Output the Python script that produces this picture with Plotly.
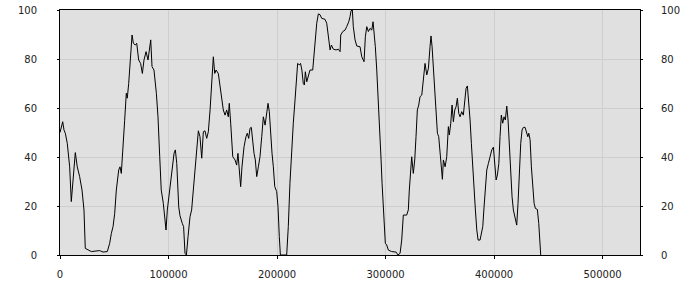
import plotly.graph_objects as go

# distance (thousands) and value
x_k = [0, 2.5, 3.7, 4.9, 6.7, 8.9, 10.4, 11.7, 12.9, 14.1, 15.9, 18.1, 20.3, 22.1, 23.3, 25.8, 28.9,
       36.6, 39.6, 43.6, 45.8, 47.3, 48.9, 50.4, 51.9, 54.1, 55.3, 56.5, 58.1, 59.6, 61.1, 62.0, 63.3,
       65.1, 66.4, 67.6, 69.4, 70.7, 72.5, 74.3, 75.9, 77.4, 79.3, 81.1, 82.3, 83.6, 84.8, 86.6, 88.8,
       90.3, 91.9, 93.3, 95.2, 96.5, 97.7, 98.9, 101.1, 103.2, 105.1, 106.3, 107.6, 109.4, 110.6, 112.7,
       113.9, 115.2, 116.5, 118.0, 119.8, 121.3, 122.9, 124.4, 126.0, 127.5, 129.0, 130.6, 132.1, 133.6,
       135.2, 136.7, 138.3, 139.8, 141.3, 142.6, 143.8, 145.9, 147.5, 149.0, 150.5, 152.1, 153.6, 155.1,
       156.0, 157.3, 158.2, 159.2, 161.3, 162.8, 164.0, 165.2, 166.5, 167.7, 169.6, 171.4, 172.6, 173.9,
       175.1, 176.3, 177.6, 178.8, 180.0, 181.3, 182.8, 184.3, 185.9, 187.4, 189.0, 190.6, 191.7, 192.9,
       194.2, 195.4, 196.6, 197.9, 199.7, 200.9, 202.1, 203.1, 208.9, 210.4, 211.9, 213.5, 215.0, 216.6,
       218.1, 219.0, 220.5, 221.7, 222.9, 224.2, 225.2, 226.1, 227.4, 228.8, 230.4, 232.9, 234.1, 235.0,
       236.6, 238.1, 239.6, 241.2, 244.2, 245.8, 247.3, 248.9, 250.1, 251.9, 254.4, 256.5, 258.1, 258.7,
       260.6, 262.7, 264.2, 266.1, 267.3, 268.2, 269.4, 270.3, 271.9, 273.5, 276.5, 278.1, 280.2, 281.4,
       282.7, 284.2, 285.7, 287.3, 288.5, 289.4, 290.6, 291.9, 293.1, 294.0, 294.9, 295.9, 296.8, 298.0,
       298.9, 299.8, 301.1, 302.6, 305.7, 309.7, 311.5, 313.4, 314.9, 316.4, 319.5, 321.0, 321.9, 323.2,
       324.1, 325.6, 326.9, 328.1, 329.3, 330.6, 331.8, 333.4, 334.9, 336.4, 338.0, 339.5, 341.0, 341.9,
       342.9, 344.1, 345.6, 346.6, 347.8, 349.0, 350.2, 351.4, 352.4, 353.3, 354.9, 356.4, 357.9, 358.8,
       360.1, 361.3, 362.5, 363.8, 365.0, 366.2, 367.5, 368.7, 370.2, 371.7, 373.0, 374.2, 375.4, 376.7,
       377.9, 379.1, 380.4, 381.6, 382.8, 384.1, 385.3, 387.1, 388.4, 389.6, 390.8, 392.0, 393.3, 394.8,
       396.3, 397.9, 399.4, 400.6, 401.9, 403.1, 404.4, 405.5, 406.7, 408.0, 409.2, 410.4, 411.7, 412.9,
       414.1, 415.4, 416.6, 417.8, 419.4, 420.9, 422.1, 423.3, 424.6, 425.8, 427.0, 428.6, 430.1, 431.1,
       432.0, 433.2, 434.4, 435.7, 436.9, 438.1, 439.9, 441.2, 442.4, 443.0]
values = [50, 54.4, 51, 49.7, 45.6, 36, 21.8, 29, 38.8, 41.8, 36, 32, 26.5, 18.4, 2.7, 2, 1.4,
          1.8, 1.2, 1.4, 4.8, 8.8, 11.6, 17, 26.5, 34.7, 36, 33.3, 42.9, 55, 66, 64, 70,
          79.6, 89.8, 86.4, 85.7, 86.4, 79.6, 78.2, 74.1, 79.6, 83, 79.6, 83.7, 87.8, 76.9, 75.5, 66,
          56.4, 40.1, 26.5, 21.1, 14.3, 10.2, 18.4, 26.5, 32, 41.5, 42.9, 37.4, 19.7, 16, 12.9,
          11.6, 0.7, 0, 7.5, 15.6, 18.4, 26.5, 33.3, 42.9, 50.7, 48.3, 39.5, 50.3, 50.7,
          47.6, 50.3, 59.2, 72.8, 80.9, 74.1, 75.5, 74.1, 68.7, 63.3, 59.2, 57.1, 59.2, 56.4,
          61.9, 53.8, 48.3, 40.1, 38.8, 36.7, 41.5, 33.3, 27.9, 36, 44.2, 48.3, 49.7, 47.6,
          51.7, 52.1, 45.6, 41.5, 38.8, 32, 36, 40.1, 48.3, 56.4, 53, 57.8, 61.9, 58.5,
          48.3, 41.5, 36, 27.9, 25.9, 19.7, 7.5, 0, 0, 11.6, 29.3, 42.9, 53.8, 63.3,
          72.8, 78.2, 77.6, 78.2, 75.5, 70, 69.4, 74.8, 70.7, 72.8, 75.5, 75.5, 80.9, 87.8,
          94.6, 98.4, 98.1, 96.6, 96.2, 94.6, 89.1, 83.7, 85.7, 84, 83.7, 84, 83, 89.8,
          91.2, 91.8, 93.2, 95.2, 97.3, 99.7, 100, 93.2, 87.8, 85.3, 85, 80.9, 78.9, 89.1,
          93.2, 91.2, 92.5, 91.8, 95.2, 91.8, 85, 75.5, 66, 57.8, 48.3, 38.8, 29.3, 18.4,
          10.2, 4.8, 4.1, 2, 1.4, 1.2, 0, 0.7, 6.1, 16.3, 16.3, 18.4, 26.5, 36,
          40.1, 33.3, 38.8, 48.3, 59.2, 61.2, 64.6, 65.3, 72.8, 78.2, 73.5, 76.2, 85, 89.4,
          85, 75.5, 64.6, 56.4, 49.7, 48.3, 41.5, 36, 30.9, 38.8, 36, 40.1, 52.4, 49,
          53.8, 61.2, 54.4, 59.2, 60.5, 64, 57.8, 56.4, 58.5, 57.1, 64.6, 68, 69, 63.3,
          55.1, 45.6, 34.7, 26.5, 18.4, 10.2, 6.1, 6.1, 9.5, 11.6, 19.7, 29.3, 34.7, 37.4,
          40.1, 42.9, 44, 37.4, 30.6, 32.7, 37.4, 48.3, 57.1, 53.8, 56.4, 55.1, 60.8, 55.1,
          42.9, 30.6, 23.8, 18.4, 15, 12.2, 21.1, 34.7, 45.6, 51, 52.1, 52.1, 49.4, 48.3,
          49.7, 47.1, 36, 26.5, 21.1, 19, 18.6, 12.9, 4.8, 0]
x_vals = [v * 1000 for v in x_k]

x_ticks = [0, 100000, 200000, 300000, 400000, 500000]
y_ticks = [0, 20, 40, 60, 80, 100]

font = dict(family="DejaVu Sans", size=10, color="#222222")

fig = go.Figure()
fig.add_trace(go.Scatter(x=x_vals, y=values, mode="lines",
                         line=dict(color="#000000", width=1), showlegend=False))
fig.add_trace(go.Scatter(x=x_vals, y=values, mode="lines", yaxis="y2",
                         line=dict(color="rgba(0,0,0,0)", width=1), showlegend=False,
                         hoverinfo="skip"))

fig.update_layout(
    width=700, height=300,
    margin=dict(l=60, r=60, t=10, b=45, autoexpand=False),
    paper_bgcolor="#ffffff",
    plot_bgcolor="#e0e0e0",
    font=font,
    xaxis=dict(range=[0, 534500], tickvals=x_ticks, ticktext=[str(t) for t in x_ticks],
               showgrid=True, gridcolor="#cecece", gridwidth=1,
               showline=True, linecolor="#000000", linewidth=1, mirror=True,
               ticks="outside", ticklen=3, tickcolor="#000000", automargin=False,
               ticklabelstandoff=7, zeroline=False),
    yaxis=dict(range=[0, 100], tickvals=y_ticks, ticktext=[str(t) for t in y_ticks],
               showgrid=True, gridcolor="#cecece", gridwidth=1,
               showline=True, linecolor="#000000", linewidth=1, mirror=True,
               ticks="outside", ticklen=2, tickcolor="#000000", automargin=False,
               ticklabelstandoff=18, zeroline=False),
    yaxis2=dict(range=[0, 100], tickvals=y_ticks, ticktext=[str(t) for t in y_ticks],
                overlaying="y", side="right", showgrid=False,
                showline=True, linecolor="#000000", linewidth=1, automargin=False,
                ticks="outside", ticklen=2, tickcolor="#000000",
                ticklabelstandoff=16, zeroline=False),
)

fig.write_html("out.html")
